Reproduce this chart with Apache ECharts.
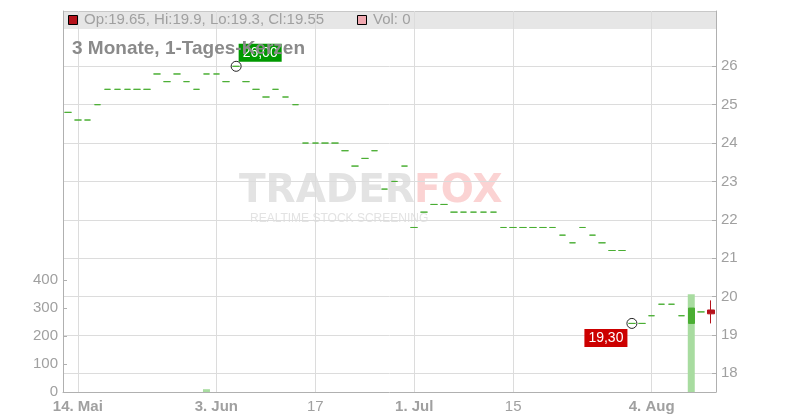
<!DOCTYPE html>
<html>
<head>
<meta charset="utf-8">
<script src="https://cdn.jsdelivr.net/npm/echarts@6/dist/echarts.min.js"></script>
<style>html,body{margin:0;padding:0;background:#fff}#c{width:800px;height:420px}</style>
</head>
<body>
<div id="c"></div>
<script>
const dates = [
 '2025-05-13','2025-05-14','2025-05-15','2025-05-16','2025-05-19','2025-05-20','2025-05-21','2025-05-22','2025-05-23','2025-05-26','2025-05-27','2025-05-28','2025-05-29','2025-05-30',
 '2025-06-02','2025-06-03','2025-06-04','2025-06-05','2025-06-06','2025-06-09','2025-06-10','2025-06-11','2025-06-12','2025-06-13','2025-06-16','2025-06-17','2025-06-18','2025-06-19','2025-06-20','2025-06-23','2025-06-24','2025-06-25','2025-06-26','2025-06-27','2025-06-30',
 '2025-07-01','2025-07-02','2025-07-03','2025-07-04','2025-07-07','2025-07-08','2025-07-09','2025-07-10','2025-07-11','2025-07-14','2025-07-15','2025-07-16','2025-07-17','2025-07-18','2025-07-21','2025-07-22','2025-07-23','2025-07-24','2025-07-25','2025-07-28','2025-07-29','2025-07-30','2025-07-31',
 '2025-08-01','2025-08-04','2025-08-05','2025-08-06','2025-08-07','2025-08-08','2025-08-11','2025-08-12'
];
const opens = [
 24.8,24.6,24.6,25.0,25.4,25.4,25.4,25.4,25.4,25.8,25.6,25.8,25.6,25.4,
 25.8,25.8,25.6,26.0,25.6,25.4,25.2,25.4,25.2,25.0,24.0,24.0,24.0,24.0,23.8,23.4,23.6,23.8,22.8,23.0,23.4,
 21.8,22.2,22.4,22.4,22.2,22.2,22.2,22.2,22.2,21.8,21.8,21.8,21.8,21.8,21.8,21.6,21.4,21.8,21.6,21.4,21.2,21.2,19.3,
 19.3,19.5,19.8,19.8,19.5,19.3,19.6,19.65
];
const closes = [
 24.8,24.6,24.6,25.0,25.4,25.4,25.4,25.4,25.4,25.8,25.6,25.8,25.6,25.4,
 25.8,25.8,25.6,26.0,25.6,25.4,25.2,25.4,25.2,25.0,24.0,24.0,24.0,24.0,23.8,23.4,23.6,23.8,22.8,23.0,23.4,
 21.8,22.2,22.4,22.4,22.2,22.2,22.2,22.2,22.2,21.8,21.8,21.8,21.8,21.8,21.8,21.6,21.4,21.8,21.6,21.4,21.2,21.2,19.3,
 19.3,19.5,19.8,19.8,19.5,19.7,19.6,19.55
];
const lows = [
 24.8,24.6,24.6,25.0,25.4,25.4,25.4,25.4,25.4,25.8,25.6,25.8,25.6,25.4,
 25.8,25.8,25.6,26.0,25.6,25.4,25.2,25.4,25.2,25.0,24.0,24.0,24.0,24.0,23.8,23.4,23.6,23.8,22.8,23.0,23.4,
 21.8,22.2,22.4,22.4,22.2,22.2,22.2,22.2,22.2,21.8,21.8,21.8,21.8,21.8,21.8,21.6,21.4,21.8,21.6,21.4,21.2,21.2,19.3,
 19.3,19.5,19.8,19.8,19.5,19.3,19.6,19.3
];
const highs = [
 24.8,24.6,24.6,25.0,25.4,25.4,25.4,25.4,25.4,25.8,25.6,25.8,25.6,25.4,
 25.8,25.8,25.6,26.0,25.6,25.4,25.2,25.4,25.2,25.0,24.0,24.0,24.0,24.0,23.8,23.4,23.6,23.8,22.8,23.0,23.4,
 21.8,22.2,22.4,22.4,22.2,22.2,22.2,22.2,22.2,21.8,21.8,21.8,21.8,21.8,21.8,21.6,21.4,21.8,21.6,21.4,21.2,21.2,19.3,
 19.3,19.5,19.8,19.8,19.5,19.7,19.6,19.9
];
const volumes = [
 0,0,0,0,0,0,0,0,0,0,0,0,0,0,
 10,0,0,0,0,0,0,0,0,0,0,0,0,0,0,0,0,0,0,0,0,
 0,0,0,0,0,0,0,0,0,0,0,0,0,0,0,0,0,0,0,0,0,0,0,
 0,0,0,0,0,350,0,0
];
const tickDates = ['2025-05-14','2025-06-03','2025-06-17','2025-07-01','2025-07-15','2025-08-04'];
const tickLabels = ['14. Mai','3. Jun','17','1. Jul','15','4. Aug'];
const tickBold = [true,true,false,true,false,true];
const priceTicks = [18,26,1];      // min, max, step
const volumeTicks = [0,400,100];   // min, max, step
const highMark = {date:'2025-06-05', value:26.00, text:'26,00'};
const lowMark = {date:'2025-07-31', value:19.30, text:'19,30'};
const lastVolume = 0;
const titleText = '3 Monate, 1-Tages-Kerzen';

const FONT = '"Liberation Sans", Arial, sans-serif';
const GREEN = '#4aae33';
const RED = '#b5121b';
const AX = '#b0b0b0';
const GRIDC = '#dcdcdc';
const LBL = '#a0a0a0';

// flat (doji) days are drawn green like the reference
const candleData = dates.map((d,i)=>{
  const v=[opens[i],closes[i],lows[i],highs[i]];
  return opens[i]===closes[i] ? {value:v,itemStyle:{borderColor:GREEN,borderColor0:GREEN,borderColorDoji:GREEN,color:GREEN,color0:GREEN}} : v;
});
const isTick = (idx)=> tickDates.indexOf(dates[idx]) >= 0;
// helper axis with half-step slots so split lines sit at category centres
const halfSlots = [];
for (let j=0;j<=dates.length*2;j++) halfSlots.push('s'+j);
const n = dates.length, li = n-1;
const legendText = 'Op:' + opens[li] + ', Hi:' + highs[li] + ', Lo:' + lows[li] + ', Cl:' + closes[li];

const L = 63, R = 84;
const chart = echarts.init(document.getElementById('c'), null, {renderer:'canvas'});
chart.setOption({
  animation:false,
  textStyle:{fontFamily:FONT},
  title:{text:titleText,left:67,top:34,textStyle:{fontSize:19,fontWeight:'bold',color:'#8a8a8a',fontFamily:FONT},z:20},
  grid:[
    {left:L,right:R,top:11,bottom:28},
    {left:L,right:R,top:66.3,bottom:46.7},
    {left:L,right:R,top:280.3,bottom:28}
  ],
  xAxis:[
    {type:'category',gridIndex:0,data:dates,boundaryGap:true,
     axisLine:{lineStyle:{color:AX,width:1}},
     axisTick:{alignWithLabel:true,length:4,interval:(i)=>isTick(i),lineStyle:{color:AX}},
     splitLine:{show:false},
     axisLabel:{interval:(i)=>isTick(i),margin:7,
       formatter:(v)=>{const k=tickDates.indexOf(v);return k<0?'':(tickBold[k]?'{b|'+tickLabels[k]+'}':'{n|'+tickLabels[k]+'}');},
       rich:{b:{fontSize:15,fontWeight:'bold',color:LBL,fontFamily:FONT},n:{fontSize:15,color:LBL,fontFamily:FONT}}}},
    {type:'category',gridIndex:1,data:dates,boundaryGap:true,show:false},
    {type:'category',gridIndex:2,data:dates,boundaryGap:true,show:false},
    {type:'category',gridIndex:0,data:halfSlots,boundaryGap:false,position:'top',
     axisLine:{show:false},axisTick:{show:false},axisLabel:{show:false},
     splitLine:{show:true,interval:(j)=> (j%2===1) && isTick((j-1)/2),lineStyle:{color:GRIDC,width:1}}}
  ],
  yAxis:[
    {type:'value',gridIndex:0,position:'left',min:0,max:1,axisLine:{show:true,lineStyle:{color:AX}},axisTick:{show:false},axisLabel:{show:false},splitLine:{show:false}},
    {type:'value',gridIndex:0,position:'right',min:0,max:1,axisLine:{show:true,lineStyle:{color:AX}},axisTick:{show:false},axisLabel:{show:false},splitLine:{show:false}},
    {type:'value',gridIndex:1,position:'right',min:priceTicks[0],max:priceTicks[1],interval:priceTicks[2],
     axisLine:{show:false},axisTick:{show:true,inside:true,length:4,lineStyle:{color:AX}},
     axisLabel:{fontSize:15,color:LBL,margin:5,fontFamily:FONT},
     splitLine:{show:true,lineStyle:{color:GRIDC,width:1}}},
    {type:'value',gridIndex:2,position:'left',min:volumeTicks[0],max:volumeTicks[1],interval:volumeTicks[2],
     axisLine:{show:false},axisTick:{show:true,inside:true,length:4,lineStyle:{color:AX}},
     axisLabel:{fontSize:15,color:LBL,margin:5,fontFamily:FONT},
     splitLine:{show:false}}
  ],
  graphic:[
    {type:'rect',z:-10,silent:true,shape:{x:L,y:11,width:800-L-R,height:18},style:{fill:'#e6e6e6'}},
    {type:'line',z:-9,silent:true,shape:{x1:L,y1:11.5,x2:800-R,y2:11.5},style:{stroke:'#c8c8c8',lineWidth:1}},
    {type:'rect',z:50,shape:{x:68.5,y:15.5,width:9,height:9},style:{fill:RED,stroke:'#000',lineWidth:1}},
    {type:'text',z:50,x:84,y:20,style:{text:legendText,fontSize:15,fill:'#a0a0a0',fontFamily:FONT,verticalAlign:'middle'}},
    {type:'rect',z:50,shape:{x:357.5,y:15.5,width:9,height:9},style:{fill:'#f0a8b0',stroke:'#000',lineWidth:1}},
    {type:'text',z:50,x:373,y:20,style:{text:'Vol: '+lastVolume,fontSize:15,fill:'#a0a0a0',fontFamily:FONT,verticalAlign:'middle'}},
    {type:'text',z:-5,silent:true,x:239,y:192,style:{text:'TRADER',fontSize:39,fontWeight:'bold',fill:'#e3e3e3',fontFamily:'"DejaVu Sans", sans-serif',verticalAlign:'middle'}},
    {type:'text',z:-5,silent:true,x:414,y:192,style:{text:'FOX',fontSize:39,fontWeight:'bold',fill:'#fbd3d3',fontFamily:'"DejaVu Sans", sans-serif',verticalAlign:'middle'}},
    {type:'text',z:-5,silent:true,x:250,y:219,style:{text:'REALTIME STOCK SCREENING',fontSize:12,fill:'#e3e3e3',fontFamily:FONT,verticalAlign:'middle'}}
  ],
  series:[
    {type:'bar',xAxisIndex:2,yAxisIndex:3,data:volumes,barWidth:7,itemStyle:{color:'#a8dca0'},z:1},
    {type:'candlestick',xAxisIndex:1,yAxisIndex:2,data:candleData,barWidth:7,z:3,
     itemStyle:{color:GREEN,color0:RED,borderColor:GREEN,borderColor0:RED,borderColorDoji:GREEN,borderWidth:1},
     markPoint:{symbol:'circle',symbolSize:10,
       itemStyle:{color:'rgba(0,0,0,0)',borderColor:'#222',borderWidth:1},
       data:[
         {coord:[highMark.date,highMark.value],value:highMark.value,
          label:{show:true,formatter:highMark.text,position:[8,-17],color:'#fff',fontSize:14,fontFamily:FONT,backgroundColor:'#009900',padding:[2,4,1,4],lineHeight:15}},
         {coord:[lowMark.date,lowMark.value],value:lowMark.value,
          label:{show:true,formatter:lowMark.text,position:[-42,11],color:'#fff',fontSize:14,fontFamily:FONT,backgroundColor:'#cc0000',padding:[2,4,1,4],lineHeight:15}}
       ]}}
  ]
});
</script>
</body>
</html>
